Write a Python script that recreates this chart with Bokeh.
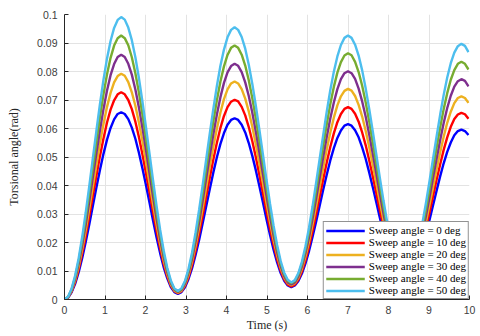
from bokeh.plotting import figure
from bokeh.models import Range1d, FixedTicker, Legend, LegendItem
from bokeh.embed import file_html
from bokeh.resources import INLINE

time_s = [0, 0.0875, 0.175, 0.2625, 0.35, 0.4375, 0.525, 0.6125, 0.7, 0.7875, 0.875, 0.9625, 1.05, 1.1375, 1.225, 1.3125, 1.4,
          1.4875, 1.575, 1.6625, 1.75, 1.8375, 1.925, 2.0125, 2.1, 2.1875, 2.275, 2.3625, 2.45, 2.5375, 2.625, 2.7125, 2.8,
          2.8875, 2.975, 3.0625, 3.15, 3.2375, 3.325, 3.4125, 3.5, 3.5875, 3.675, 3.7625, 3.85, 3.9375, 4.025, 4.1125, 4.2,
          4.2875, 4.375, 4.4625, 4.55, 4.6375, 4.725, 4.8125, 4.9, 4.9875, 5.075, 5.1625, 5.25, 5.3375, 5.425, 5.5125, 5.6,
          5.6875, 5.775, 5.8625, 5.95, 6.0375, 6.125, 6.2125, 6.3, 6.3875, 6.475, 6.5625, 6.65, 6.7375, 6.825, 6.9125, 7.0,
          7.0875, 7.175, 7.2625, 7.35, 7.4375, 7.525, 7.6125, 7.7, 7.7875, 7.875, 7.9625, 8.05, 8.1375, 8.225, 8.3125, 8.4,
          8.4875, 8.575, 8.6625, 8.75, 8.8375, 8.925, 9.0125, 9.1, 9.1875, 9.275, 9.3625, 9.45, 9.5375, 9.625, 9.7125, 9.8,
          9.8875, 9.975]

sweep_0 = [0, 0.0006, 0.0025, 0.0055, 0.0096, 0.0146, 0.0203, 0.0264, 0.0329, 0.0393, 0.0454, 0.0511, 0.0561, 0.0602, 0.0632, 0.0651, 0.0657,
           0.0651, 0.0633, 0.0603, 0.0564, 0.0515, 0.0460, 0.0401, 0.0339, 0.0276, 0.0217, 0.0162, 0.0113, 0.0074, 0.0044, 0.0026, 0.0020,
           0.0026, 0.0043, 0.0072, 0.0110, 0.0157, 0.0210, 0.0268, 0.0328, 0.0388, 0.0446, 0.0499, 0.0546, 0.0584, 0.0613, 0.0630, 0.0636,
           0.0630, 0.0613, 0.0586, 0.0549, 0.0504, 0.0453, 0.0397, 0.0340, 0.0282, 0.0226, 0.0175, 0.0130, 0.0093, 0.0066, 0.0049, 0.0043,
           0.0049, 0.0065, 0.0091, 0.0127, 0.0170, 0.0220, 0.0273, 0.0329, 0.0385, 0.0438, 0.0488, 0.0531, 0.0567, 0.0593, 0.0610, 0.0615,
           0.0610, 0.0594, 0.0569, 0.0534, 0.0493, 0.0445, 0.0394, 0.0340, 0.0286, 0.0235, 0.0187, 0.0146, 0.0111, 0.0086, 0.0070, 0.0065,
           0.0070, 0.0085, 0.0110, 0.0143, 0.0183, 0.0229, 0.0279, 0.0331, 0.0382, 0.0432, 0.0478, 0.0518, 0.0551, 0.0576, 0.0591, 0.0596,
           0.0591, 0.0577]

sweep_10 = [0, 0.0007, 0.0028, 0.0061, 0.0106, 0.0162, 0.0224, 0.0293, 0.0364, 0.0434, 0.0503, 0.0565, 0.0621, 0.0666, 0.0699, 0.0720, 0.0727,
            0.0720, 0.0700, 0.0668, 0.0624, 0.0570, 0.0509, 0.0443, 0.0375, 0.0306, 0.0240, 0.0179, 0.0125, 0.0081, 0.0049, 0.0029, 0.0022,
            0.0029, 0.0048, 0.0079, 0.0121, 0.0173, 0.0232, 0.0295, 0.0362, 0.0428, 0.0491, 0.0550, 0.0602, 0.0644, 0.0675, 0.0694, 0.0701,
            0.0695, 0.0676, 0.0646, 0.0605, 0.0555, 0.0499, 0.0437, 0.0374, 0.0310, 0.0248, 0.0192, 0.0142, 0.0101, 0.0071, 0.0052, 0.0046,
            0.0052, 0.0070, 0.0099, 0.0138, 0.0186, 0.0240, 0.0299, 0.0361, 0.0422, 0.0481, 0.0535, 0.0583, 0.0622, 0.0651, 0.0669, 0.0675,
            0.0669, 0.0652, 0.0624, 0.0586, 0.0541, 0.0488, 0.0432, 0.0373, 0.0313, 0.0257, 0.0204, 0.0159, 0.0121, 0.0093, 0.0076, 0.0070,
            0.0076, 0.0092, 0.0119, 0.0156, 0.0200, 0.0251, 0.0305, 0.0363, 0.0420, 0.0474, 0.0525, 0.0569, 0.0606, 0.0633, 0.0649, 0.0655,
            0.0650, 0.0634]

sweep_20 = [0, 0.0008, 0.0030, 0.0067, 0.0116, 0.0176, 0.0244, 0.0319, 0.0396, 0.0473, 0.0548, 0.0616, 0.0676, 0.0725, 0.0762, 0.0784, 0.0792,
            0.0785, 0.0763, 0.0727, 0.0680, 0.0621, 0.0555, 0.0483, 0.0408, 0.0333, 0.0261, 0.0195, 0.0136, 0.0089, 0.0053, 0.0031, 0.0024,
            0.0031, 0.0052, 0.0086, 0.0133, 0.0189, 0.0253, 0.0322, 0.0395, 0.0467, 0.0536, 0.0600, 0.0656, 0.0703, 0.0737, 0.0758, 0.0765,
            0.0758, 0.0738, 0.0705, 0.0660, 0.0606, 0.0544, 0.0477, 0.0408, 0.0338, 0.0271, 0.0209, 0.0155, 0.0110, 0.0077, 0.0057, 0.0050,
            0.0057, 0.0076, 0.0108, 0.0151, 0.0203, 0.0263, 0.0327, 0.0395, 0.0462, 0.0526, 0.0586, 0.0638, 0.0681, 0.0713, 0.0732, 0.0739,
            0.0733, 0.0714, 0.0683, 0.0642, 0.0591, 0.0534, 0.0472, 0.0407, 0.0342, 0.0280, 0.0223, 0.0172, 0.0131, 0.0100, 0.0081, 0.0075,
            0.0081, 0.0099, 0.0129, 0.0168, 0.0217, 0.0272, 0.0332, 0.0394, 0.0456, 0.0516, 0.0571, 0.0620, 0.0659, 0.0689, 0.0707, 0.0713,
            0.0707, 0.0690]

sweep_30 = [0, 0.0008, 0.0033, 0.0072, 0.0126, 0.0191, 0.0265, 0.0346, 0.0430, 0.0513, 0.0594, 0.0668, 0.0733, 0.0787, 0.0826, 0.0851, 0.0859,
            0.0851, 0.0827, 0.0789, 0.0737, 0.0674, 0.0602, 0.0524, 0.0443, 0.0361, 0.0283, 0.0211, 0.0148, 0.0096, 0.0058, 0.0034, 0.0026,
            0.0034, 0.0056, 0.0094, 0.0143, 0.0204, 0.0273, 0.0348, 0.0427, 0.0505, 0.0580, 0.0649, 0.0710, 0.0760, 0.0797, 0.0819, 0.0827,
            0.0820, 0.0798, 0.0762, 0.0714, 0.0655, 0.0588, 0.0516, 0.0440, 0.0365, 0.0292, 0.0225, 0.0166, 0.0118, 0.0082, 0.0060, 0.0053,
            0.0060, 0.0081, 0.0116, 0.0163, 0.0219, 0.0284, 0.0354, 0.0427, 0.0500, 0.0570, 0.0635, 0.0691, 0.0738, 0.0773, 0.0794, 0.0801,
            0.0794, 0.0774, 0.0740, 0.0695, 0.0641, 0.0578, 0.0511, 0.0441, 0.0370, 0.0303, 0.0240, 0.0186, 0.0141, 0.0107, 0.0087, 0.0080,
            0.0087, 0.0106, 0.0138, 0.0181, 0.0234, 0.0294, 0.0359, 0.0427, 0.0494, 0.0559, 0.0619, 0.0672, 0.0715, 0.0747, 0.0766, 0.0773,
            0.0767, 0.0748]

sweep_40 = [0, 0.0009, 0.0035, 0.0078, 0.0136, 0.0206, 0.0286, 0.0373, 0.0463, 0.0553, 0.0640, 0.0720, 0.0790, 0.0848, 0.0891, 0.0917, 0.0926,
            0.0917, 0.0892, 0.0850, 0.0794, 0.0726, 0.0649, 0.0565, 0.0477, 0.0389, 0.0305, 0.0228, 0.0160, 0.0104, 0.0062, 0.0037, 0.0028,
            0.0036, 0.0061, 0.0101, 0.0154, 0.0220, 0.0294, 0.0375, 0.0460, 0.0544, 0.0625, 0.0699, 0.0765, 0.0818, 0.0858, 0.0883, 0.0891,
            0.0883, 0.0859, 0.0821, 0.0769, 0.0706, 0.0634, 0.0555, 0.0474, 0.0393, 0.0314, 0.0242, 0.0179, 0.0127, 0.0089, 0.0065, 0.0057,
            0.0065, 0.0088, 0.0125, 0.0175, 0.0236, 0.0306, 0.0382, 0.0461, 0.0539, 0.0615, 0.0685, 0.0746, 0.0796, 0.0833, 0.0856, 0.0864,
            0.0857, 0.0834, 0.0798, 0.0750, 0.0691, 0.0624, 0.0550, 0.0475, 0.0399, 0.0325, 0.0258, 0.0199, 0.0151, 0.0115, 0.0092, 0.0085,
            0.0092, 0.0114, 0.0148, 0.0195, 0.0251, 0.0316, 0.0386, 0.0460, 0.0533, 0.0603, 0.0668, 0.0724, 0.0771, 0.0805, 0.0827, 0.0834,
            0.0827, 0.0807]

sweep_50 = [0, 0.0010, 0.0038, 0.0084, 0.0145, 0.0220, 0.0306, 0.0399, 0.0496, 0.0592, 0.0685, 0.0771, 0.0846, 0.0907, 0.0953, 0.0981, 0.0991,
            0.0982, 0.0954, 0.0910, 0.0850, 0.0777, 0.0694, 0.0604, 0.0511, 0.0417, 0.0327, 0.0244, 0.0171, 0.0111, 0.0067, 0.0039, 0.0030,
            0.0039, 0.0065, 0.0108, 0.0165, 0.0236, 0.0316, 0.0402, 0.0493, 0.0583, 0.0669, 0.0749, 0.0820, 0.0877, 0.0920, 0.0946, 0.0955,
            0.0946, 0.0921, 0.0880, 0.0824, 0.0756, 0.0679, 0.0595, 0.0508, 0.0420, 0.0336, 0.0259, 0.0191, 0.0135, 0.0094, 0.0069, 0.0060,
            0.0068, 0.0093, 0.0133, 0.0187, 0.0252, 0.0327, 0.0409, 0.0493, 0.0577, 0.0659, 0.0734, 0.0799, 0.0853, 0.0893, 0.0918, 0.0926,
            0.0918, 0.0894, 0.0856, 0.0804, 0.0740, 0.0668, 0.0590, 0.0508, 0.0426, 0.0348, 0.0276, 0.0212, 0.0160, 0.0122, 0.0098, 0.0090,
            0.0098, 0.0121, 0.0158, 0.0208, 0.0269, 0.0339, 0.0415, 0.0494, 0.0572, 0.0648, 0.0718, 0.0779, 0.0829, 0.0866, 0.0889, 0.0897,
            0.0890, 0.0868]

series = [sweep_0, sweep_10, sweep_20, sweep_30, sweep_40, sweep_50]
labels = ["Sweep angle = 0 deg", "Sweep angle = 10 deg", "Sweep angle = 20 deg",
          "Sweep angle = 30 deg", "Sweep angle = 40 deg", "Sweep angle = 50 deg"]
colors = ["#0000FF", "#FF0000", "#EDB120", "#7E2F8E", "#77AC30", "#4DBEEE"]

x_ticks = [0, 1, 2, 3, 4, 5, 6, 7, 8, 9, 10]
x_tick_labels = ["0", "1", "2", "3", "4", "5", "6", "7", "8", "9", "10"]
y_ticks = [0, 0.01, 0.02, 0.03, 0.04, 0.05, 0.06, 0.07, 0.08, 0.09, 0.1]
y_tick_labels = ["0", "0.01", "0.02", "0.03", "0.04", "0.05", "0.06", "0.07", "0.08", "0.09", "0.1"]

p = figure(width=480, height=336, output_backend="svg", toolbar_location=None,
           x_range=Range1d(0, 10), y_range=Range1d(0, 0.1),
           min_border_left=64, min_border_right=11, min_border_top=14, min_border_bottom=37)
p.outline_line_color = None
p.background_fill_color = "white"

renderers = []
for ys, c in zip(series, colors):
    r = p.line(time_s, ys, line_color=c, line_width=2.4)
    renderers.append(r)

axis_col = "#262626"
for ax, ticks, tl in ((p.xaxis[0], x_ticks, x_tick_labels), (p.yaxis[0], y_ticks, y_tick_labels)):
    ax.ticker = FixedTicker(ticks=ticks)
    ax.major_label_overrides = {t: l for t, l in zip(ticks, tl)}
    ax.major_tick_in = 4
    ax.major_tick_out = 0
    ax.minor_tick_line_color = None
    ax.axis_line_color = axis_col
    ax.major_tick_line_color = axis_col
    ax.major_label_text_font = "Liberation Sans"
    ax.major_label_text_font_size = "10.5px"
    ax.major_label_text_color = "#404040"
    ax.axis_label_text_font = "Liberation Serif"
    ax.axis_label_text_font_size = "12px"
    ax.axis_label_text_font_style = "normal"
    ax.axis_label_text_color = axis_col

p.xaxis.axis_label = "Time (s)"
p.yaxis.axis_label = "Torsional angle(rad)"
p.xaxis.major_label_standoff = 6
p.xaxis.axis_label_standoff = 1
p.yaxis.major_label_standoff = 7
p.yaxis.axis_label_standoff = 13

p.xgrid.ticker = FixedTicker(ticks=x_ticks)
p.ygrid.ticker = FixedTicker(ticks=y_ticks)
p.grid.grid_line_color = "#e3e3e3"
p.grid.grid_line_width = 1

legend = Legend(items=[LegendItem(label=l, renderers=[r]) for l, r in zip(labels, renderers)],
                location="bottom_right", margin=0, padding=2, spacing=0,
                glyph_width=39, glyph_height=11, label_height=11, label_standoff=4,
                label_text_font="Liberation Serif", label_text_font_size="11px",
                label_text_color="black", border_line_color=axis_col, border_line_width=1,
                background_fill_color="white", background_fill_alpha=1.0)
p.add_layout(legend)

open("out.html", "w").write(file_html(p, INLINE))
